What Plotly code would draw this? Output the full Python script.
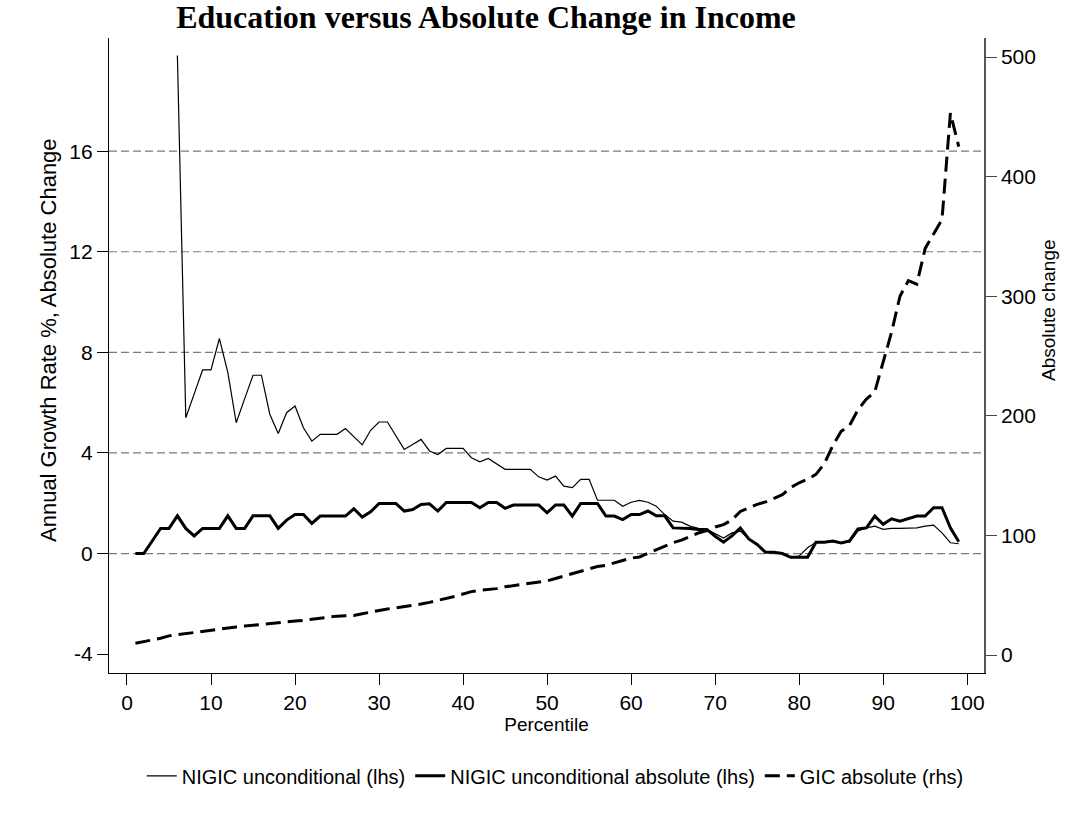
import plotly.graph_objects as go

percentile = list(range(1, 100))

nigic_uncond = [None, None, None, None, None, 19.8, 5.4, 6.35, 7.3, 7.3,
                8.55, 7.2, 5.2, 6.15, 7.09, 7.09, 5.54, 4.77, 5.6, 5.87,
                5.0, 4.47, 4.74, 4.74, 4.74, 4.97, 4.65, 4.32, 4.9, 5.23,
                5.23, 4.70, 4.14, 4.34, 4.54, 4.08, 3.94, 4.18, 4.18, 4.18,
                3.81, 3.65, 3.78, 3.55, 3.35, 3.35, 3.35, 3.35, 3.05, 2.92,
                3.08, 2.68, 2.62, 2.95, 2.95, 2.12, 2.12, 2.12, 1.88, 2.04,
                2.11, 2.04, 1.88, 1.55, 1.29, 1.25, 1.09, 1.0, 0.96, 0.8,
                0.62, 0.82, 0.89, 0.58, 0.36, 0.05, 0.05, 0.0, -0.15, -0.1,
                0.23, 0.45, 0.45, 0.48, 0.42, 0.45, 0.9, 1.02, 1.09, 0.96,
                1.0, 1.0, 1.0, 1.02, 1.09, 1.13, 0.82, 0.43, 0.39]

nigic_abs = [0.0, 0.0, 0.5, 1.0, 1.0, 1.5, 1.0, 0.7, 1.0, 1.0,
             1.0, 1.5, 1.0, 1.0, 1.5, 1.5, 1.5, 1.0, 1.33, 1.55,
             1.55, 1.2, 1.49, 1.49, 1.49, 1.49, 1.78, 1.45, 1.66, 1.99,
             1.99, 1.99, 1.69, 1.75, 1.95, 1.98, 1.69, 2.03, 2.03, 2.03,
             2.03, 1.82, 2.03, 2.03, 1.8, 1.93, 1.93, 1.93, 1.93, 1.62,
             1.93, 1.93, 1.49, 1.99, 1.99, 1.99, 1.49, 1.49, 1.35, 1.55,
             1.55, 1.69, 1.5, 1.5, 1.02, 1.02, 1.0, 0.96, 0.96, 0.69,
             0.45, 0.7, 1.02, 0.58, 0.36, 0.05, 0.05, 0.0, -0.15, -0.15,
             -0.15, 0.45, 0.45, 0.5, 0.42, 0.5, 0.98, 1.02, 1.49, 1.16,
             1.38, 1.29, 1.38, 1.49, 1.49, 1.82, 1.82, 1.02, 0.47]

gic_abs = [9.8, 11, 12.5, 14, 16, 17, 17.6, 18.5, 20, 20.5,
           21.8, 22.7, 23.5, 24.2, 25, 25.7, 26, 27, 27.6, 28.4,
           29, 30, 31, 32, 32.5, 32.8, 33, 34.5, 36, 37.6,
           38.5, 39.5, 40.4, 41.5, 42.6, 44, 45.5, 47, 49, 51,
           53, 54, 54.5, 55.5, 57, 58, 59, 60, 60.5, 62,
           64, 66, 68, 70, 72, 74, 75, 77, 79, 81,
           82, 85, 88, 91, 94, 96, 99, 102, 104, 107,
           109, 113, 120, 123, 126, 128, 131, 134, 140, 144,
           147, 151, 160, 175, 187, 192, 205, 214, 220, 245,
           270, 300, 313, 310, 340, 352, 364, 453, 425]

grid_vals = [0, 4, 8, 12, 16]
left_ticks = [-4, 0, 4, 8, 12, 16]
left_ticktext = ["-4", "0", "4", "8", "12", "16"]
right_ticks = [0, 100, 200, 300, 400, 500]
x_ticks = list(range(0, 101, 10))

FONT = "Liberation Sans, Arial, sans-serif"

fig = go.Figure()

fig.add_trace(go.Scatter(x=percentile, y=nigic_uncond, mode="lines",
                         name="NIGIC unconditional (lhs)",
                         line=dict(color="black", width=1.2),
                         connectgaps=False))
fig.add_trace(go.Scatter(x=percentile, y=nigic_abs, mode="lines",
                         name="NIGIC unconditional absolute (lhs)",
                         line=dict(color="black", width=3)))
fig.add_trace(go.Scatter(x=percentile, y=gic_abs, mode="lines",
                         name="GIC absolute (rhs)", yaxis="y2",
                         line=dict(color="black", width=3, dash="15px,7px")))

for g in grid_vals:
    fig.add_shape(type="line", xref="paper", yref="y", x0=0, x1=1, y0=g, y1=g,
                  line=dict(color="#7a7a7a", width=1.2, dash="8px,4px"),
                  layer="below")

H = 836.0
fig.add_annotation(text="Annual Growth Rate %, Absolute Change", textangle=-90,
                   xref="paper", yref="paper", x=(48 - 109) / 875.0, y=(673 - 340) / 635.0,
                   xanchor="center", yanchor="middle", showarrow=False,
                   font=dict(family=FONT, size=22, color="black"))
fig.add_annotation(text="Absolute change", textangle=-90,
                   xref="paper", yref="paper", x=(1048 - 109) / 875.0, y=(673 - 310) / 635.0,
                   xanchor="center", yanchor="middle", showarrow=False,
                   font=dict(family=FONT, size=19, color="black"))

fig.update_layout(
    width=1079, height=836,
    margin=dict(l=109, r=95, t=38, b=163),
    paper_bgcolor="white", plot_bgcolor="white",
    font=dict(family=FONT, size=20, color="black"),
    title=dict(text="<b>Education versus Absolute Change in Income</b>",
               font=dict(family="Liberation Serif, Times New Roman, serif", size=32, color="black"),
               x=486 / 1079, xanchor="center", xref="container",
               y=1 - 28 / H, yanchor="bottom", yref="container"),
    showlegend=True,
    legend=dict(orientation="h", x=0.51, xanchor="center", y=-0.162, yanchor="middle",
                font=dict(family=FONT, size=20), bgcolor="rgba(0,0,0,0)",
                itemwidth=30, tracegroupgap=0),
    xaxis=dict(range=[-2.14, 102.0], tickvals=x_ticks, ticks="outside", ticklen=11,
               tickwidth=1.2, tickcolor="black", showline=True, linecolor="black", linewidth=1.2,
               showgrid=False, zeroline=False, tickfont=dict(size=21),
               title=dict(text="Percentile", font=dict(size=19), standoff=4)),
    yaxis=dict(range=[-4.75, 20.5], tickvals=left_ticks, ticktext=left_ticktext,
               ticks="outside", ticklen=11,
               tickwidth=1.2, tickcolor="black", showline=True, linecolor="black", linewidth=1.2,
               showgrid=False, zeroline=False, tickfont=dict(size=21)),
    yaxis2=dict(range=[-15.05, 515.9], tickvals=right_ticks, ticks="outside", ticklen=11,
                tickwidth=1.2, tickcolor="#444", showline=True, linecolor="#555", linewidth=1.5,
                overlaying="y", side="right", showgrid=False, zeroline=False, tickfont=dict(size=21)),
)

fig.write_html("out.html")
